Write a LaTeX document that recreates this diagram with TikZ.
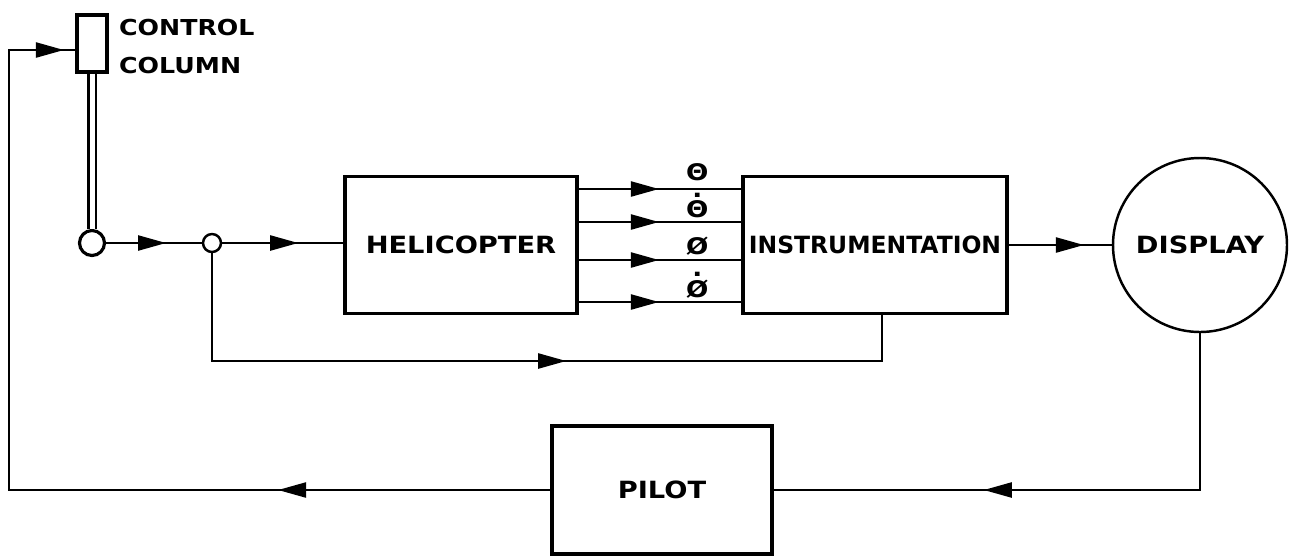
\documentclass[tikz,border=0pt]{standalone}
\usepackage{fontspec}
\setmainfont{DejaVu Sans}[FakeStretch=1.15]
\usetikzlibrary{arrows.meta}
\usetikzlibrary{decorations.markings}

% letter with a dot over it
\newcommand{\dotsym}[1]{\setbox0\hbox{#1}\rlap{\hbox to\wd0{\hss\raisebox{\dimexpr\ht0+1.5pt\relax}{.}\hss}}\box0}

\begin{document}
\begin{tikzpicture}[line width=1.3pt,
		font=\bfseries\fontsize{13.5}{23}\selectfont,
		flow/.tip={Triangle[length=0.56cm,width=0.3cm]},
		arr/.style={postaction={decorate,decoration={markings,mark=at position #1 with {\arrow{flow}}}}},
		blk/.style={draw,line width=2.2pt,inner sep=0pt},
		sym/.style={inner sep=0pt,font=\bfseries\fontsize{13}{13}\selectfont}]
		
		\useasboundingbox (0,0) rectangle (25.94,-11.1);
		
		% Blocks
		\node[blk,minimum width=0.6cm,minimum height=1.14cm] (col) at (1.84,-0.87) {};
		\node[anchor=west,align=left,inner sep=0pt,font=\bfseries\fontsize{12.5}{21.5}\selectfont] (colTxt) at (2.36,-0.93) {CONTROL\\COLUMN};
		\node[draw,circle,line width=1.8pt,minimum size=0.5cm,inner sep=0pt] (stick) at (1.84,-4.86) {};
		\node[draw,circle,line width=1.4pt,minimum size=0.36cm,inner sep=0pt] (junc) at (4.24,-4.86) {};
		\node[blk,minimum width=4.64cm,minimum height=2.74cm] (heli) at (9.22,-4.9) {\raisebox{-0.18cm}{HELICOPTER}};
		\node[blk,minimum width=5.28cm,minimum height=2.74cm] (inst) at (17.5,-4.9) {\raisebox{-0.18cm}{\scalebox{0.86}[1]{INSTRUMENTATION}}};
		\node[draw,circle,line width=1.4pt,minimum size=3.48cm,inner sep=0pt] (disp) at (24.0,-4.9) {DISPLAY};
		\node[blk,minimum width=4.4cm,minimum height=2.56cm] (pilot) at (13.24,-9.8) {PILOT};
		
		% Column stick
		\draw[double,double distance=0.1cm,line width=1.3pt] (col.south) -- (stick.north);
		
		% Forward path
		\draw[arr=1.2cm] (stick.east) -- (junc.west);
		\draw[arr=1.52cm] (junc.east) -- (heli.west |- junc.east);
		\foreach \yy/\sym/\gap [count=\i] in {-3.78/Θ/0.14, -4.44/\dotsym{Θ}/0.06, -5.2/Ø/0.08, -6.04/\dotsym{Ø}/0.06} {
			\draw[arr=1.6cm] (heli.east |- 0,\yy) -- node[sym,pos=0.73,above=\gap cm] (sig\i) {\sym} (inst.west |- 0,\yy);
		}
		\draw[arr=1.5cm] (inst.east) -- (disp.west);
		
		% Feedback paths
		\coordinate (fbI) at (17.64,-7.22);
		\draw[arr=9.24cm] (junc.south) |- (fbI) -- (fbI |- inst.south);
		
		\coordinate (fbBR) at (24.0,-9.8);
		\draw[arr=7.46cm] (disp.south) -- (fbBR) -- (pilot.east);
		
		\coordinate (fbBL) at (0.18,-9.8);
		\coordinate (fbTL) at (0.18,-1.0);
		\draw[arr=5.44cm,arr=20.72cm] (pilot.west) -- (fbBL) -- (fbTL) -- (col.west |- fbTL);
		
	\end{tikzpicture}
\end{document}
